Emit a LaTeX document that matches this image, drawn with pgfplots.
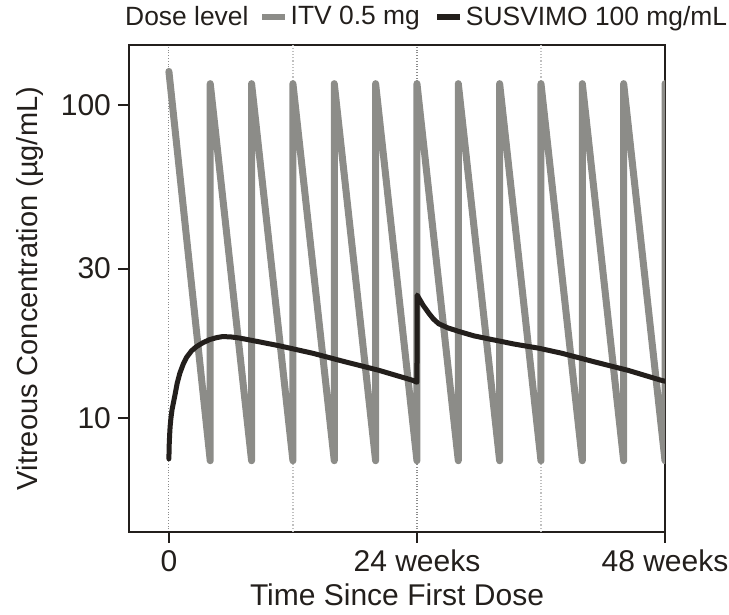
\documentclass[border=0pt]{standalone}
\usepackage{fontspec}
\setmainfont{Liberation Sans}
\usepackage{pgfplots}
\pgfplotsset{compat=1.18}
\definecolor{itvgray}{RGB}{140,140,136}
\definecolor{susblack}{RGB}{35,31,28}
\begin{document}
\begin{tikzpicture}
\begin{axis}[
    name=ax,
    scale only axis,
    width=268pt, height=243.5pt,
    xmin=-3.86, xmax=48,
    ymode=log, ymin=4.32, ymax=155.5,
    xtick={0,24,48}, xticklabels={0,24 weeks,48 weeks},
    ytick={10,30,100}, yticklabels={10,30,100},
    yminorticks=false,
    tick pos=left,
    extra x ticks={12,36}, extra x tick labels={},
    extra x tick style={grid=major, major tick length=0pt,
        major grid style={densely dotted, black!25, line width=0.6pt}},
    xmajorgrids,
    major grid style={densely dotted, black!45, line width=0.6pt},
    tick align=outside, major tick length=5.5pt,
    tick style={susblack, line width=1pt},
    axis line style={susblack, line width=1pt},
    /pgf/number format/assume math mode=true,
    ticklabel style={font=\fontsize{15}{17}\selectfont, text=susblack},
    xlabel style={font=\fontsize{15}{17}\selectfont, text=susblack, yshift=6.5pt},
    ylabel style={font=\fontsize{14.5}{16}\selectfont, text=susblack},
    ylabel shift=2pt,
    xlabel={Time Since First Dose},
    ylabel={Vitreous Concentration (µg/mL)},
    legend columns=-1,
    legend style={at={(-0.0246,1.0575)}, anchor=west, draw=none, fill=none,
        font=\fontsize{13.2}{15}\selectfont, text=susblack,
        nodes={inner sep=1.5pt},
        /tikz/column 2/.style={column sep=4pt},
        /tikz/column 4/.style={column sep=6pt}},
    legend image code/.code={\draw[#1, line cap=butt, line width=2.6pt] (0pt,0pt) -- (11.5pt,0pt);},
]
\addlegendimage{empty legend}
\addlegendentry{Dose level}

% ITV 0.5 mg, monthly injections
\addplot[itvgray, line width=3.5pt, line cap=round, line join=round] coordinates {
    (0,128)(4,7.3)(4,117)(8,7.3)(8,117)(12,7.3)(12,117)(16,7.3)(16,117)
    (20,7.3)(20,117)(24,7.3)(24,117)(28,7.3)(28,117)(32,7.3)(32,117)
    (36,7.3)(36,117)(40,7.3)(40,117)(44,7.3)(44,117)(48,7.3)(48,117)
};
\addlegendentry{ITV 0.5 mg}

% SUSVIMO 100 mg/mL, refill at 24 weeks
\addplot[susblack, line width=2.5pt, line cap=round, line join=round] coordinates {
    (0,7.4)(0.03,8.2)(0.07,8.8)(0.12,9.4)(0.2,10.0)(0.3,10.6)(0.42,11.1)
    (0.58,11.8)(0.8,12.9)(1.06,13.9)(1.4,14.9)
    (1.7,15.6)(2.2,16.4)(2.67,16.9)(3.3,17.4)(3.95,17.8)(4.6,18.05)(5.2,18.2)
    (6.0,18.15)(6.84,18.0)(8.77,17.5)(10.7,17.0)(13.9,16.1)(17.1,15.1)
    (20.3,14.2)(23.55,13.2)(24,13.0)
    (24.02,24.7)(24.3,23.8)(24.6,22.9)(25.15,21.6)(25.6,20.7)(26.1,20.0)
    (27.0,19.4)(28.05,18.9)(29.5,18.3)(31.25,17.8)(33.5,17.2)(35.8,16.7)
    (38.0,16.1)(41.2,15.1)(44.4,14.2)(47.6,13.2)(48,13.1)
};
\addlegendentry{SUSVIMO 100 mg/mL}
\end{axis}
\pgfresetboundingbox
\path[use as bounding box] ([shift={(-64.5pt,-41pt)}]ax.south west)
    rectangle ([shift={(32pt,22.5pt)}]ax.north east);
\end{tikzpicture}
\end{document}
